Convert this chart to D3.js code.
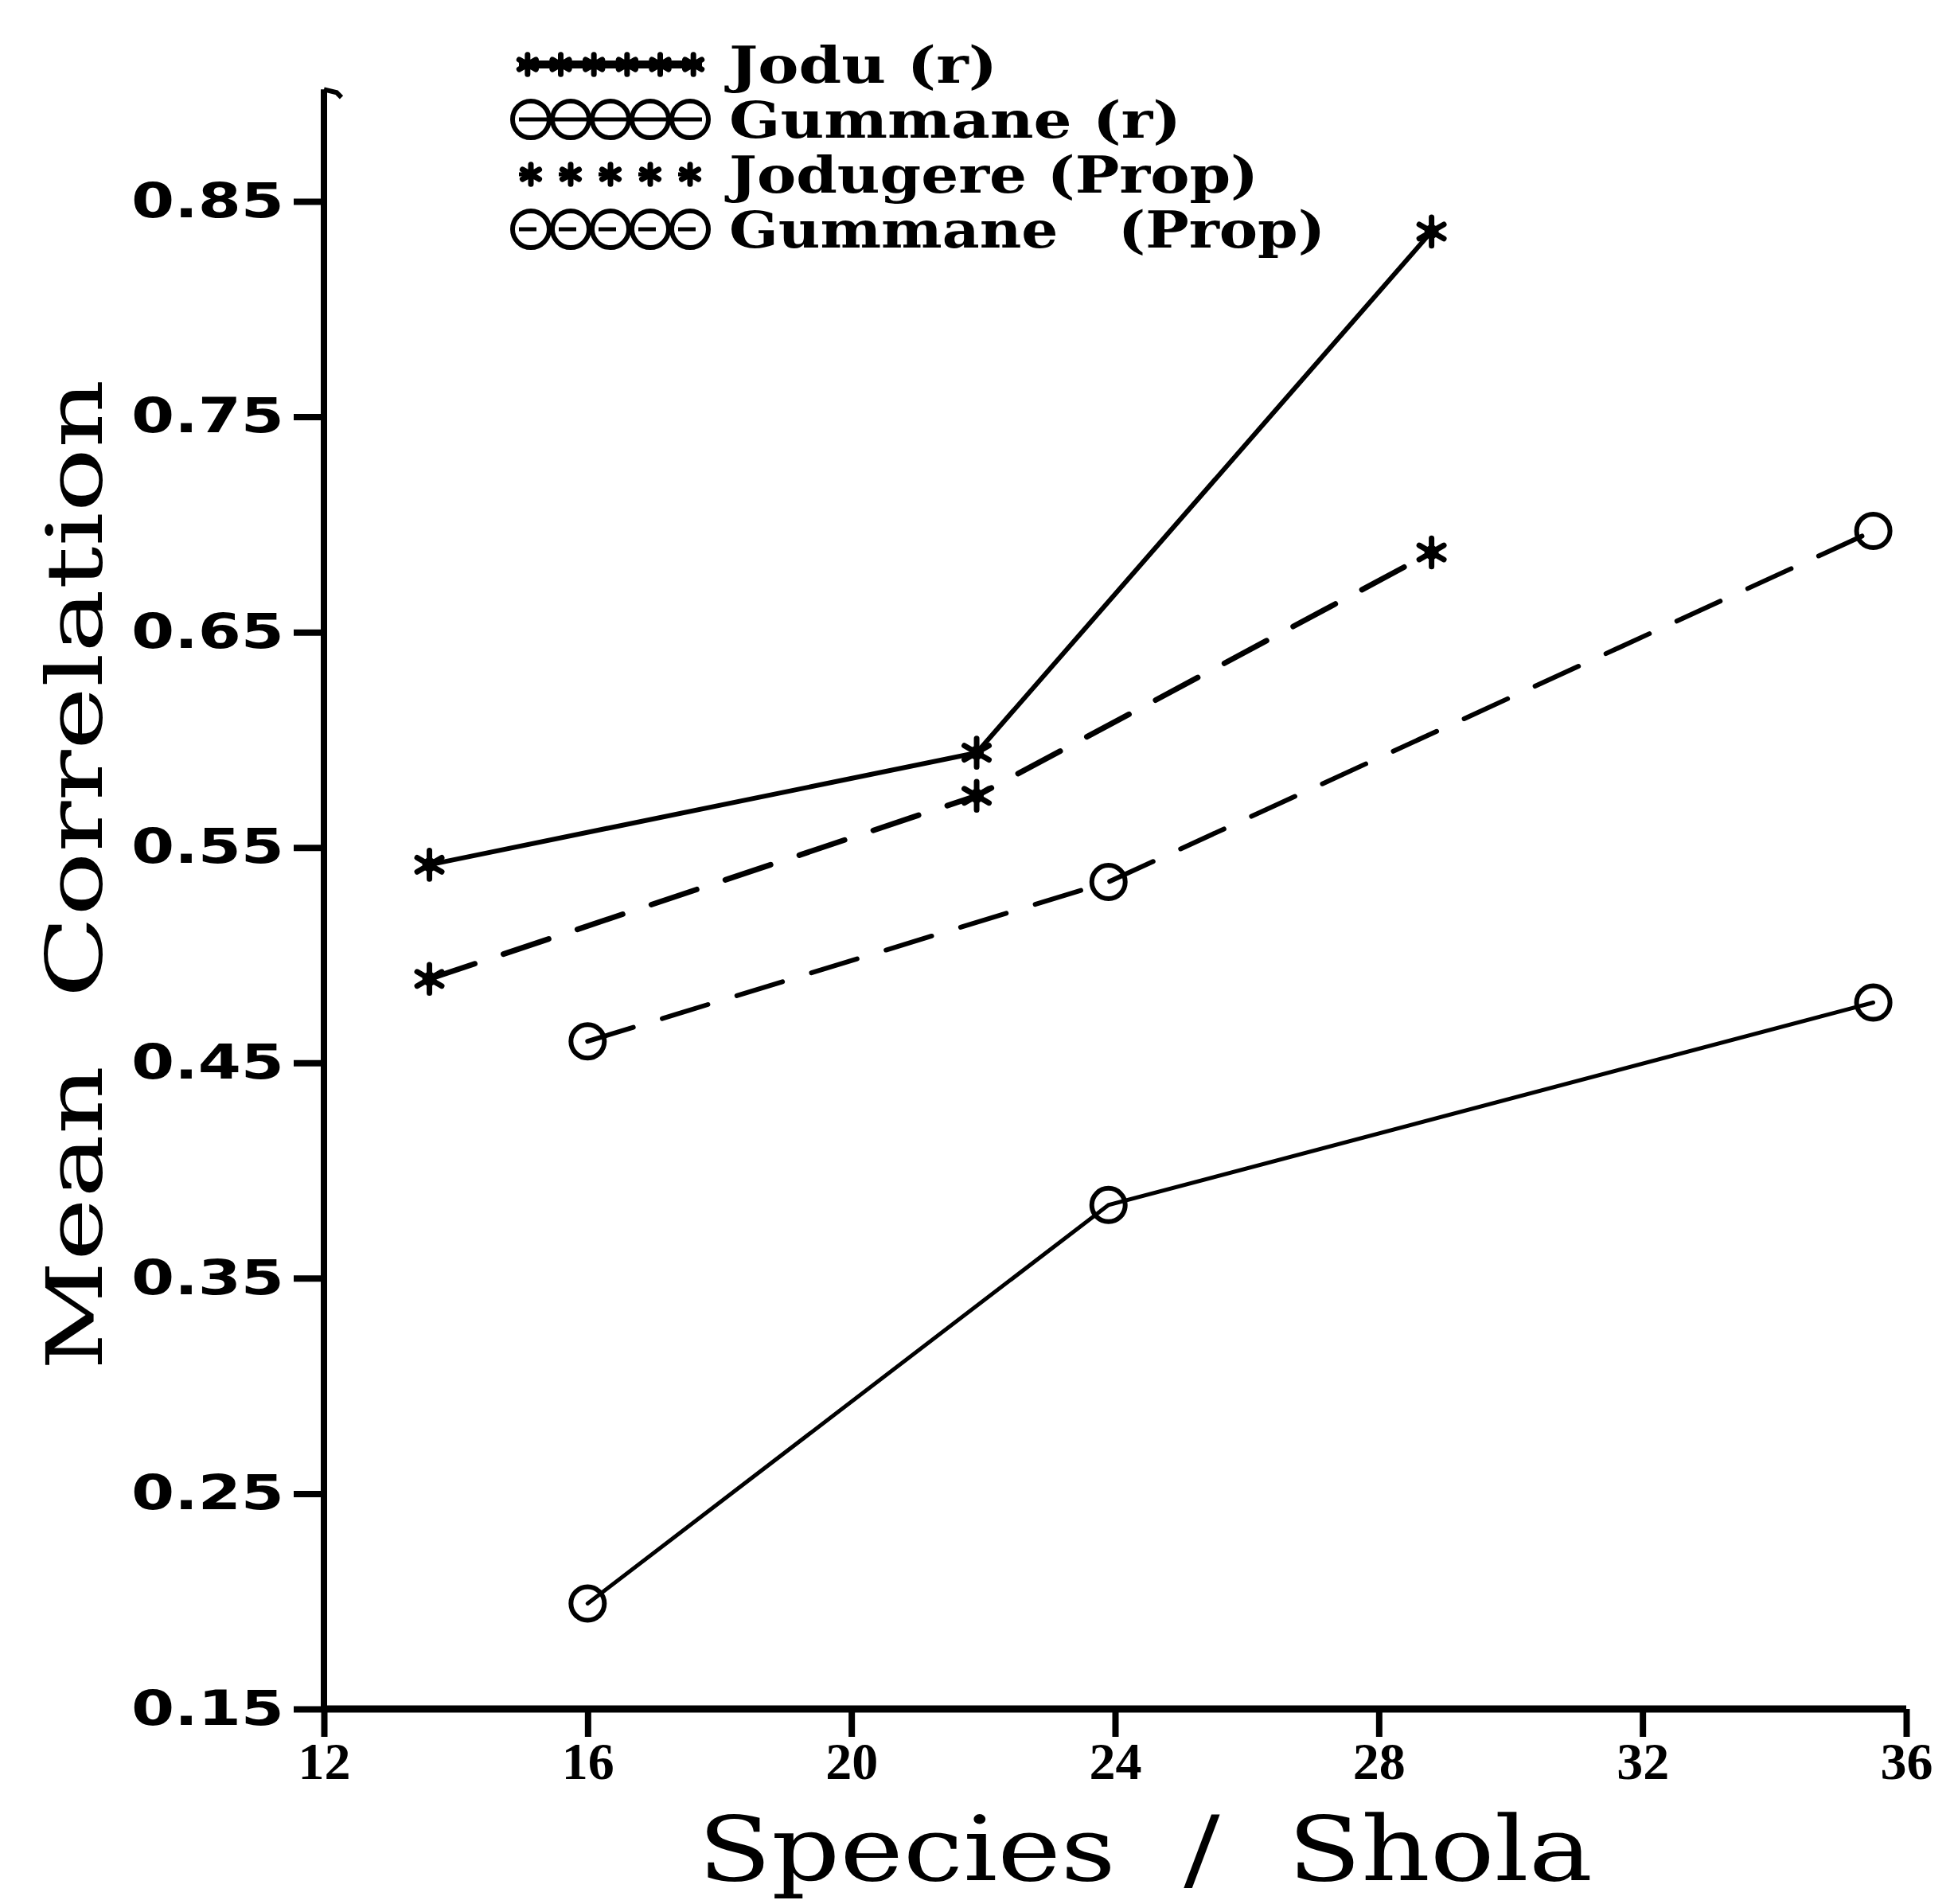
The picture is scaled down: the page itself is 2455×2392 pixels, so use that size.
<!DOCTYPE html>
<html><head><meta charset="utf-8">
<script src="https://cdn.jsdelivr.net/npm/d3@7"></script>
<style>html,body{margin:0;padding:0;background:#fff;} svg{display:block;} text{white-space:pre;}</style>
</head><body>
<script>
// ---- data ----
const xTicks = [12, 16, 20, 24, 28, 32, 36];
const yTicks = [0.15, 0.25, 0.35, 0.45, 0.55, 0.65, 0.75, 0.85];
const joduX = [13.6, 21.9, 28.8];
const gummaneX = [16.0, 23.9, 35.5];
const joduR = [0.542, 0.594, 0.836];
const gummaneR = [0.199, 0.384, 0.478];
const jodugereProp = [0.489, 0.574, 0.687];
const gummaneProp = [0.460, 0.534, 0.697];
const seriesNames = ["Jodu (r)", "Gummane (r)", "Jodugere (Prop)", "Gummane   (Prop)"];
const xTitle = "Species  /  Shola";
const yTitle = "Mean  Correlation";
const yAxisTop = 0.902;

// ---- layout ----
const W = 2455, H = 2392;
const svg = d3.select("body").append("svg").attr("width", W).attr("height", H)
  .style("background", "#fff");

const x = d3.scaleLinear().domain([12, 36]).range([407, 2395]);
const y = d3.scaleLinear().domain([0.15, 0.85]).range([2147, 253]);

const series = [
  { name: seriesNames[0], xs: joduX, ys: joduR, marker: "star", dashed: false, width: 6, legendCount: 6 },
  { name: seriesNames[1], xs: gummaneX, ys: gummaneR, marker: "circle", dashed: false, width: 5, legendCount: 5 },
  { name: seriesNames[2], xs: joduX, ys: jodugereProp, marker: "star", dashed: true, width: 7, legendCount: 5 },
  { name: seriesNames[3], xs: gummaneX, ys: gummaneProp, marker: "circle", dashed: true, width: 6, legendCount: 5 }
];

// ---- axes ----
const axisW = 8;
const yAxis = d3.axisLeft(y).tickValues(yTicks).tickSize(38).tickSizeOuter(0).tickPadding(12)
  .tickFormat(d3.format(".2f"));
const gy = svg.append("g").attr("transform", `translate(${x(12)},0)`).call(yAxis);
gy.select(".domain").remove();
gy.selectAll(".tick line").attr("stroke", "#000").attr("stroke-width", axisW);
gy.selectAll(".tick text")
  .attr("fill", "#000")
  .style("font-family", "'DejaVu Sans', sans-serif")
  .style("font-weight", "bold")
  .style("font-size", "60px")
  .attr("textLength", 192).attr("lengthAdjust", "spacingAndGlyphs");

const xAxis = d3.axisBottom(x).tickValues(xTicks).tickSize(35).tickSizeOuter(0).tickPadding(6)
  .tickFormat(d3.format("d"));
const gx = svg.append("g").attr("transform", `translate(0,${y(0.15)})`).call(xAxis);
gx.select(".domain").remove();
gx.selectAll(".tick line").attr("stroke", "#000").attr("stroke-width", axisW);
gx.selectAll(".tick text")
  .attr("fill", "#000")
  .style("font-family", "'Liberation Serif', serif")
  .style("font-weight", "bold")
  .style("font-size", "66px");

// axis lines
svg.append("line").attr("x1", x(12)).attr("x2", x(12))
  .attr("y1", y(0.15) + axisW / 2).attr("y2", y(yAxisTop))
  .attr("stroke", "#000").attr("stroke-width", axisW);
svg.append("line").attr("x1", x(12)).attr("x2", x(36))
  .attr("y1", y(0.15)).attr("y2", y(0.15))
  .attr("stroke", "#000").attr("stroke-width", axisW + 1);
// small hook at axis top
svg.append("path")
  .attr("d", `M${x(12)},${y(yAxisTop)} l16,4 l6,6`)
  .attr("fill", "none").attr("stroke", "#000").attr("stroke-width", 6);

// ---- titles ----
svg.append("text")
  .attr("x", 1439).attr("y", 2362)
  .attr("text-anchor", "middle")
  .style("font-family", "'DejaVu Serif', serif")
  .style("font-size", "112px")
  .attr("textLength", 1124).attr("lengthAdjust", "spacingAndGlyphs")
  .text(xTitle);

svg.append("text")
  .attr("transform", "translate(128,1099) rotate(-90)")
  .attr("text-anchor", "middle")
  .style("font-family", "'DejaVu Serif', serif")
  .style("font-size", "98px")
  .attr("textLength", 1245).attr("lengthAdjust", "spacingAndGlyphs")
  .text(yTitle);

// ---- series ----
const dash = "60 38";
const star = d3.symbol(d3.symbolAsterisk, 900);
const starSmall = d3.symbol(d3.symbolAsterisk, 420);

function drawMarker(g, type, cx, cy, small) {
  if (type === "star") {
    g.append("path").attr("d", (small ? starSmall : star)())
      .attr("transform", `translate(${cx},${cy})`)
      .attr("fill", "none").attr("stroke", "#000").attr("stroke-width", 7)
      .attr("stroke-linecap", "round");
    g.append("circle").attr("cx", cx).attr("cy", cy).attr("r", small ? 7 : 9).attr("fill", "#000");
  } else {
    g.append("circle").attr("cx", cx).attr("cy", cy).attr("r", small ? 23 : 21)
      .attr("fill", "none").attr("stroke", "#000").attr("stroke-width", 6);
  }
}

const line = d3.line().x(d => x(d[0])).y(d => y(d[1]));
const gs = svg.append("g");
series.forEach(s => {
  const pts = s.xs.map((v, i) => [v, s.ys[i]]);
  gs.append("path").attr("d", line(pts))
    .attr("fill", "none").attr("stroke", "#000")
    .attr("stroke-width", s.width)
    .attr("stroke-dasharray", s.dashed ? dash : null)
    .attr("stroke-linecap", "round");
  pts.forEach(p => drawMarker(gs, s.marker, x(p[0]), y(p[1]), false));
});

// ---- legend ----
const lg = svg.append("g");
const legX0 = 642, legX1 = 892, legY0 = 81, legStep = 69, legTextX = 916;
const legLengths = [337, 568, 665, 749];
series.forEach((s, i) => {
  const cy = legY0 + i * legStep;
  lg.append("line").attr("x1", legX0 + 10).attr("x2", legX1 - 10).attr("y1", cy).attr("y2", cy)
    .attr("stroke", "#000").attr("stroke-width", s.marker === "star" && !s.dashed ? 10 : 5)
    .attr("stroke-dasharray", s.dashed ? "22 28" : null);
  const n = s.legendCount;
  const step = (legX1 - legX0) / n;
  for (let k = 0; k < n; k++) {
    drawMarker(lg, s.marker, legX0 + step * (k + 0.5), cy, true);
  }
  lg.append("text").attr("x", legTextX).attr("y", cy + 23)
    .style("font-family", "'DejaVu Serif', serif")
    .style("font-weight", "bold")
    .style("font-size", "64px")
    .attr("textLength", legLengths[i]).attr("lengthAdjust", "spacingAndGlyphs")
    .text(s.name);
});
</script>
</body></html>
